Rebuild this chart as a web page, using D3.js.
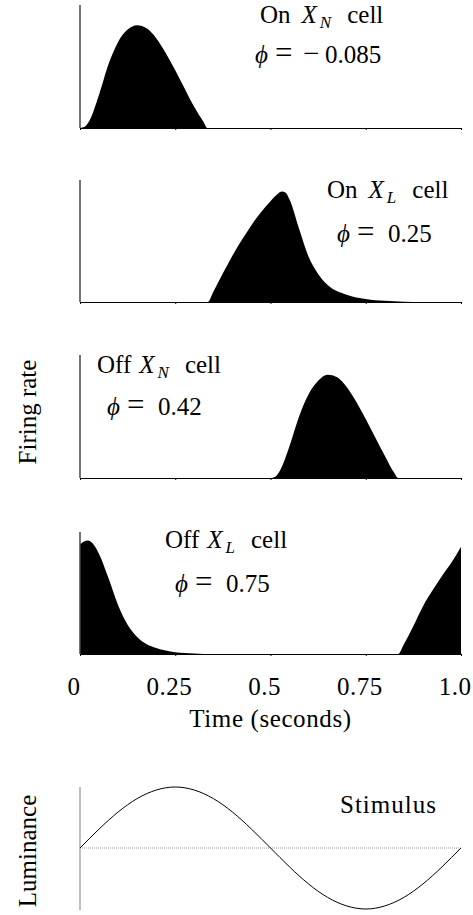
<!DOCTYPE html>
<html>
<head>
<meta charset="utf-8">
<script src="https://cdn.jsdelivr.net/npm/d3@7"></script>
<style>
  body { margin: 0; background: #fff; }
  svg text { font-family: "Liberation Serif", "DejaVu Serif", serif; fill: #000; font-size: 25px; }
</style>
</head>
<body>
<div id="content"></div>
<script>
var width = 473;
var height = 915;

// time ticks
var tickValues = [0, 0.25, 0.5, 0.75, 1.0];
var tickLabels = ["0", "0.25", "0.5", "0.75", "1.0"];

// firing rate of each cell (0..1 of the axis height)
var onXN_t = [0, 0.0125, 0.025, 0.05, 0.075, 0.1, 0.125, 0.15, 0.175, 0.2, 0.225, 0.25, 0.275, 0.3, 0.325, 0.334, 1.0];
var onXN_r = [0, 0.01, 0.06, 0.27, 0.52, 0.70, 0.80, 0.836, 0.81, 0.73, 0.61, 0.47, 0.32, 0.17, 0.045, 0, 0];

var onXL_t = [0, 0.335, 0.35, 0.375, 0.4, 0.425, 0.45, 0.475, 0.5, 0.51, 0.52, 0.53, 0.54, 0.55, 0.575, 0.6, 0.625, 0.65, 0.7, 0.75, 0.8, 0.85, 0.9, 1.0];
var onXL_r = [0, 0, 0.085, 0.235, 0.38, 0.51, 0.63, 0.735, 0.825, 0.86, 0.89, 0.905, 0.895, 0.84, 0.6, 0.37, 0.23, 0.14, 0.06, 0.025, 0.01, 0.003, 0, 0];

var offXN_t = [0, 0.5, 0.5125, 0.525, 0.55, 0.575, 0.6, 0.625, 0.65, 0.675, 0.7, 0.725, 0.75, 0.775, 0.8, 0.825, 0.835, 1.0];
var offXN_r = [0, 0, 0.01, 0.06, 0.26, 0.5, 0.68, 0.79, 0.84, 0.82, 0.74, 0.62, 0.48, 0.33, 0.18, 0.04, 0, 0];

var offXL_t = [0, 0.0125, 0.02, 0.0375, 0.05, 0.075, 0.1, 0.125, 0.15, 0.175, 0.2, 0.25, 0.3, 0.35, 0.835, 0.85, 0.875, 0.9, 0.925, 0.95, 0.975, 1.0];
var offXL_r = [0.90, 0.925, 0.93, 0.89, 0.82, 0.62, 0.40, 0.24, 0.14, 0.08, 0.05, 0.015, 0.005, 0, 0, 0.08, 0.23, 0.39, 0.52, 0.64, 0.75, 0.88];

// stimulus luminance
var stim_t = [0, 0.05, 0.1, 0.15, 0.2, 0.25, 0.3, 0.35, 0.4, 0.45, 0.5, 0.55, 0.6, 0.65, 0.7, 0.75, 0.8, 0.85, 0.9, 0.95, 1.0];
var stim_v = [0, 0.31, 0.59, 0.81, 0.95, 1, 0.95, 0.81, 0.59, 0.31, 0, -0.31, -0.59, -0.81, -0.95, -1, -0.95, -0.81, -0.59, -0.31, 0];

// labels
var cellKinds = ["On", "On", "Off", "Off"];
var cellSubs = ["N", "L", "N", "L"];
var phiValues = ["\u22120.085", "0.25", "0.42", "0.75"];

var svg = d3.select('#content').append('svg')
  .attr('width', width)
  .attr('height', height);

var x = d3.scaleLinear().domain([0, 1]).range([80, 461]);

// panel placement: top of axis, baseline, name label pos, phi label pos
var panels = [
  {t: onXN_t, r: onXN_r, top: 5, base: 128, nx: 260, ny: 23, px: 255, py: 63},
  {t: onXL_t, r: onXL_r, top: 180, base: 302, nx: 327, ny: 198, px: 337, py: 242},
  {t: offXN_t, r: offXN_r, top: 355, base: 478, nx: 97, ny: 373, px: 107, py: 415},
  {t: offXL_t, r: offXL_r, top: 532, base: 654, nx: 165, ny: 548, px: 175, py: 592}
];

panels.forEach(function(p, i) {
  var y = d3.scaleLinear().domain([0, 1]).range([p.base, p.top]);
  var g = svg.append('g');
  var pts = p.t.map(function(d, j) { return [d, p.r[j]]; });

  var area = d3.area()
    .x(function(d) { return x(d[0]); })
    .y0(y(0))
    .y1(function(d) { return y(d[1]); })
    .curve(d3.curveMonotoneX);

  g.append('path')
    .attr('d', area(pts))
    .style('fill', '#000');

  // bottom axis
  var ax = d3.axisBottom(x).tickValues(tickValues).tickSize(2).tickFormat('');
  var axg = g.append('g').attr('transform', 'translate(0,' + p.base + ')').call(ax);
  axg.select('.domain').attr('stroke', '#000').attr('stroke-width', 1);
  axg.selectAll('.tick line').attr('stroke', '#000');

  // left axis line
  g.append('line')
    .attr('x1', x(0)).attr('x2', x(0))
    .attr('y1', p.top).attr('y2', p.base)
    .style('stroke', '#444').style('stroke-width', 1.5);

  // cell name: "On X_N cell"
  var name = g.append('text').attr('x', p.nx).attr('y', p.ny);
  name.append('tspan').text(cellKinds[i]);
  name.append('tspan').attr('dx', cellKinds[i] === 'On' ? 11 : 8).style('font-style', 'italic').text('X');
  name.append('tspan').style('font-style', 'italic').style('font-size', '17px')
    .attr('dy', 5).attr('dx', 3).text(cellSubs[i]);
  name.append('tspan').attr('dy', -5).attr('dx', 16).text('cell');

  // phase label
  var phi = g.append('text').attr('x', p.px).attr('y', p.py);
  phi.append('tspan').style('font-style', 'italic').text('\u03d5');
  phi.append('tspan').attr('x', p.px + 20).style('font-size', '31px').text('=');
  var v = phiValues[i];
  if (v.charAt(0) === '\u2212') {
    phi.append('tspan').attr('x', p.px + 48).style('font-size', '29px').text('\u2212');
    phi.append('tspan').attr('x', p.px + 70).text(v.slice(1));
  } else {
    phi.append('tspan').attr('x', p.px + 51).text(v);
  }
});

// time tick labels
svg.selectAll('text.tick-label')
  .data(tickValues)
  .enter()
  .append('text')
  .attr('class', 'tick-label')
  .attr('x', function(d) { return x(d) - 6; })
  .attr('y', 695)
  .attr('text-anchor', 'middle')
  .style('letter-spacing', '0.5px')
  .text(function(d, i) { return tickLabels[i]; });

svg.append('text')
  .attr('x', x(0.5))
  .attr('y', 727)
  .attr('text-anchor', 'middle')
  .style('letter-spacing', '0.6px')
  .text('Time (seconds)');

svg.append('text')
  .attr('transform', 'translate(36,412) rotate(-90)')
  .attr('text-anchor', 'middle')
  .text('Firing rate');

// stimulus panel
var ys = d3.scaleLinear().domain([-1, 1]).range([909, 787]);

svg.append('line')
  .attr('x1', x(0)).attr('x2', x(0))
  .attr('y1', 787).attr('y2', 910)
  .style('stroke', '#aaa').style('stroke-width', 1.5);

svg.append('line')
  .attr('x1', x(0)).attr('x2', x(1))
  .attr('y1', ys(0)).attr('y2', ys(0))
  .style('stroke', '#999').style('stroke-width', 1)
  .style('stroke-dasharray', '1,1');

var line = d3.line()
  .x(function(d) { return x(d[0]); })
  .y(function(d) { return ys(d[1]); })
  .curve(d3.curveNatural);

svg.append('path')
  .attr('d', line(stim_t.map(function(d, j) { return [d, stim_v[j]]; })))
  .style('fill', 'none')
  .style('stroke', '#000')
  .style('stroke-width', 1);

svg.append('text')
  .attr('x', 340)
  .attr('y', 813)
  .style('letter-spacing', '1px')
  .text('Stimulus');

svg.append('text')
  .attr('transform', 'translate(36,851) rotate(-90)')
  .attr('text-anchor', 'middle')
  .text('Luminance');
</script>
</body>
</html>
